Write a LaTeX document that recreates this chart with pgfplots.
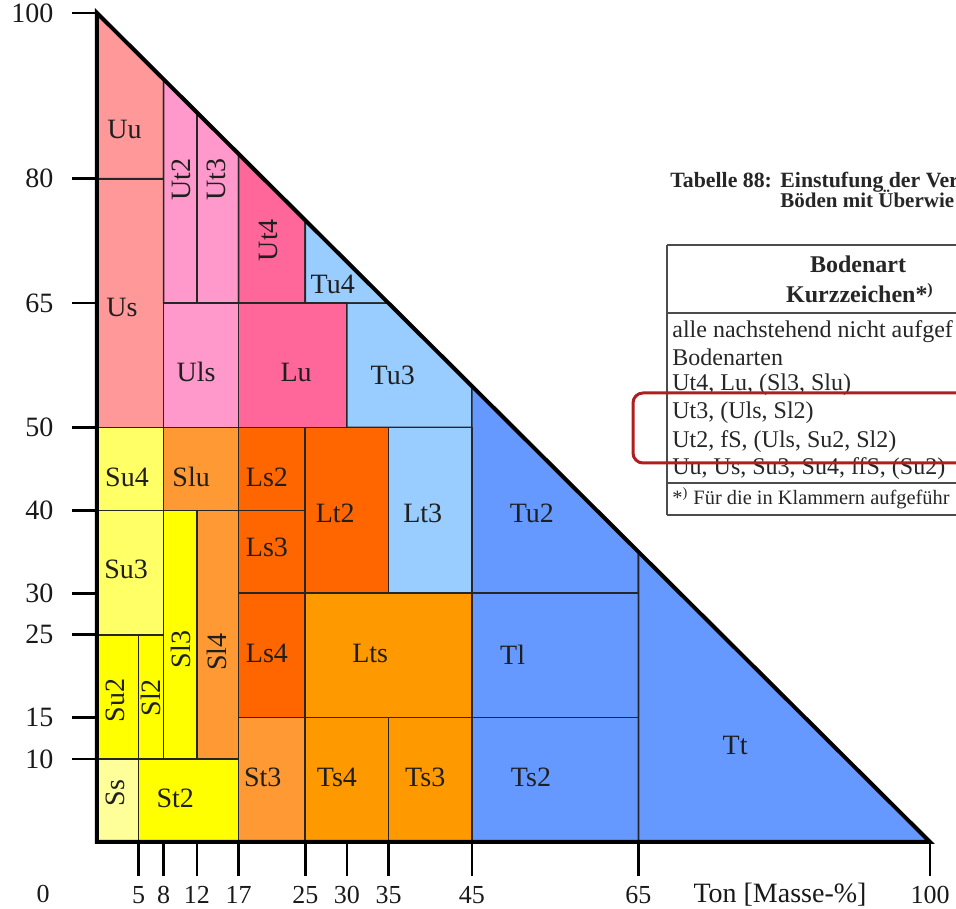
\documentclass[border=0pt]{standalone}
\usepackage{pgfplots}
\pgfplotsset{compat=1.18}
\usepackage{fontspec}
\setmainfont{Liberation Serif}
\definecolor{cU}{HTML}{FF9999}
\definecolor{cUt}{HTML}{FF99CC}
\definecolor{cLu}{HTML}{FF6699}
\definecolor{cTl}{HTML}{99CCFF}
\definecolor{cT}{HTML}{6699FF}
\definecolor{cSu}{HTML}{FFFF66}
\definecolor{cY}{HTML}{FFFF00}
\definecolor{cSs}{HTML}{FFFF99}
\definecolor{cSl}{HTML}{FF9933}
\definecolor{cLs}{HTML}{FF6600}
\definecolor{cLts}{HTML}{FF9900}
\definecolor{cRed}{HTML}{B01E1E}
\newcommand{\region}[2]{\addplot[fill=#1, draw=black!85, line width=0.8pt] coordinates {#2} -- cycle;}
\begin{document}
\begin{tikzpicture}
\path[use as bounding box] (-48.5pt,-33pt) rectangle (429.5pt,421pt);
\begin{axis}[
  anchor=origin, at={(0pt,0pt)},
  x=4.165pt, y=4.145pt,
  xmin=0, xmax=100, ymin=0, ymax=100,
  axis x line*=bottom, axis y line*=left,
  axis line style={draw=none},
  clip=false,
  tick align=outside,
  xtick={5,8,12,17,25,30,35,45,65,100},
  ytick={10,15,25,30,40,50,65,80,100},
  major tick style={line width=1.3pt, black},
  xtick style={/pgfplots/major tick length=17pt},
  ytick style={/pgfplots/major tick length=12.5pt},
  /pgf/number format/assume math mode=true,
  xticklabel style={font=\fontsize{13}{15}\selectfont, text=black!90, anchor=north, yshift=-14.2pt},
  yticklabel style={font=\fontsize{14}{16}\selectfont, text=black!90, anchor=east, xshift=-14pt},
]
% silt (Schluff) dominated
\region{cU}{(0,80) (8,80) (8,92) (0,100)}
\region{cU}{(0,50) (8,50) (8,80) (0,80)}
\region{cUt}{(8,65) (12,65) (12,88) (8,92)}
\region{cUt}{(12,65) (17,65) (17,83) (12,88)}
\region{cLu}{(17,65) (25,65) (25,75) (17,83)}
\region{cTl}{(25,65) (35,65) (25,75)}
\region{cUt}{(8,50) (17,50) (17,65) (8,65)}
\region{cLu}{(17,50) (30,50) (30,65) (17,65)}
\region{cTl}{(30,50) (45,50) (45,55) (35,65) (30,65)}
% clay (Ton)
\region{cT}{(45,30) (65,30) (65,35) (45,55)}
\region{cT}{(45,15) (65,15) (65,30) (45,30)}
\region{cT}{(45,0) (65,0) (65,15) (45,15)}
\region{cT}{(65,0) (100,0) (65,35)}
% sand
\region{cSu}{(0,40) (8,40) (8,50) (0,50)}
\region{cSl}{(8,40) (17,40) (17,50) (8,50)}
\region{cSu}{(0,25) (8,25) (8,40) (0,40)}
\region{cY}{(0,10) (5,10) (5,25) (0,25)}
\region{cY}{(5,10) (8,10) (8,25) (5,25)}
\region{cY}{(8,10) (12,10) (12,40) (8,40)}
\region{cSl}{(12,10) (17,10) (17,40) (12,40)}
\region{cSs}{(0,0) (5,0) (5,10) (0,10)}
\region{cY}{(5,0) (17,0) (17,10) (5,10)}
% loam
\region{cLs}{(17,40) (25,40) (25,50) (17,50)}
\region{cLs}{(17,30) (25,30) (25,40) (17,40)}
\region{cLs}{(17,15) (25,15) (25,30) (17,30)}
\region{cLs}{(25,30) (35,30) (35,50) (25,50)}
\region{cTl}{(35,30) (45,30) (45,50) (35,50)}
\region{cLts}{(25,15) (45,15) (45,30) (25,30)}
\region{cSl}{(17,0) (25,0) (25,15) (17,15)}
\region{cLts}{(25,0) (35,0) (35,15) (25,15)}
\region{cLts}{(35,0) (45,0) (45,15) (35,15)}
% outline
\addplot[black, line width=2pt] coordinates {(0,100) (0,0) (100,0)} -- cycle;
% labels
\begin{scope}[every node/.style={font=\fontsize{14}{16}\selectfont, text=black!88, inner sep=0pt}]
\node at (axis cs:3.3,85.9) {Uu};
\node at (axis cs:3.0,64.5) {Us};
\node[rotate=90] at (axis cs:10.1,79.9) {Ut2};
\node[rotate=90] at (axis cs:14.3,79.9) {Ut3};
\node[rotate=90] at (axis cs:20.6,72.6) {Ut4};
\node at (axis cs:28.3,67.3) {Tu4};
\node at (axis cs:11.9,56.7) {Uls};
\node at (axis cs:23.9,56.6) {Lu};
\node at (axis cs:35.5,56.3) {Tu3};
\node at (axis cs:52.2,39.7) {Tu2};
\node at (axis cs:49.9,22.6) {Tl};
\node at (axis cs:52.1,7.8) {Ts2};
\node at (axis cs:76.6,11.7) {Tt};
\node at (axis cs:3.6,44.0) {Su4};
\node at (axis cs:11.3,44.0) {Slu};
\node at (axis cs:3.5,32.9) {Su3};
\node[rotate=90] at (axis cs:2.2,17.1) {Su2};
\node[rotate=90] at (axis cs:6.5,17.4) {Sl2};
\node[rotate=90] at (axis cs:10.1,23.2) {Sl3};
\node[rotate=90] at (axis cs:14.4,22.9) {Sl4};
\node[rotate=90] at (axis cs:2.2,5.9) {Ss};
\node at (axis cs:9.4,5.3) {St2};
\node at (axis cs:20.4,44.0) {Ls2};
\node at (axis cs:20.4,35.5) {Ls3};
\node at (axis cs:20.4,22.8) {Ls4};
\node at (axis cs:28.6,39.7) {Lt2};
\node at (axis cs:39.1,39.7) {Lt3};
\node at (axis cs:32.8,22.8) {Lts};
\node at (axis cs:19.9,7.8) {St3};
\node at (axis cs:28.8,7.8) {Ts4};
\node at (axis cs:39.4,7.8) {Ts3};
\end{scope}
\end{axis}
% axis annotations
\node[anchor=base, inner sep=0pt, font=\fontsize{13}{15}\selectfont, text=black!90] at (-27pt,-30.5pt) {0};
\node[anchor=base, inner sep=0pt, font=\fontsize{14}{16}\selectfont, text=black!90] at (341.5pt,-30.5pt) {Ton [Masse-\%]};
% table excerpt (cropped at the right edge, as in the reference)
\begin{scope}
\clip (-48.5pt,-33pt) rectangle (429.5pt,421pt);
\begin{scope}[every node/.style={inner sep=0pt, text=black!85}]
\node[anchor=base west, font=\bfseries\fontsize{10.9}{13}\selectfont] at (286.5pt,327pt) {Tabelle 88:};
\node[anchor=base west, font=\bfseries\fontsize{10.9}{13}\selectfont] at (341.5pt,327pt) {Einstufung der Ver};
\node[anchor=base west, font=\bfseries\fontsize{10.5}{13}\selectfont] at (341.5pt,317pt) {Böden mit Überwie};
\draw[black!70, line width=0.8pt] (285pt,298.5pt) -- (500pt,298.5pt);
\draw[black!70, line width=0.8pt] (285pt,298.5pt) -- (285pt,163.5pt);
\draw[black!70, line width=0.8pt] (285pt,264.5pt) -- (500pt,264.5pt);
\draw[black!70, line width=0.8pt] (285pt,179.5pt) -- (500pt,179.5pt);
\draw[black!70, line width=0.8pt] (285pt,163.5pt) -- (500pt,163.5pt);
\node[anchor=base, font=\bfseries\fontsize{12}{14}\selectfont] at (380.5pt,284.5pt) {Bodenart};
\node[anchor=base, font=\bfseries\fontsize{12}{14}\selectfont] at (381.5pt,269.5pt) {Kurzzeichen*\textsuperscript{)}};
\node[anchor=base west, font=\fontsize{12}{14}\selectfont] at (287.5pt,252pt) {alle nachstehend nicht aufgef};
\node[anchor=base west, font=\fontsize{12}{14}\selectfont] at (287.5pt,238pt) {Bodenarten};
\node[anchor=base west, font=\fontsize{12}{14}\selectfont] at (287.5pt,225.5pt) {Ut4, Lu, (Sl3, Slu)};
\node[anchor=base west, font=\fontsize{12}{14}\selectfont] at (287.5pt,211.5pt) {Ut3, (Uls, Sl2)};
\node[anchor=base west, font=\fontsize{12}{14}\selectfont] at (287.5pt,197pt) {Ut2, fS, (Uls, Su2, Sl2)};
\node[anchor=base west, font=\fontsize{12}{14}\selectfont] at (287.5pt,183.5pt) {Uu, Us, Su3, Su4, ffS, (Su2)};
\node[anchor=base west, font=\fontsize{10.2}{13}\selectfont] at (287.5pt,168.5pt) {*\textsuperscript{)} Für die in Klammern aufgeführ};
\end{scope}
\draw[cRed, line width=1.5pt, rounded corners=5pt] (268pt,189.5pt) rectangle (520pt,224.5pt);
\end{scope}
\end{tikzpicture}
\end{document}
